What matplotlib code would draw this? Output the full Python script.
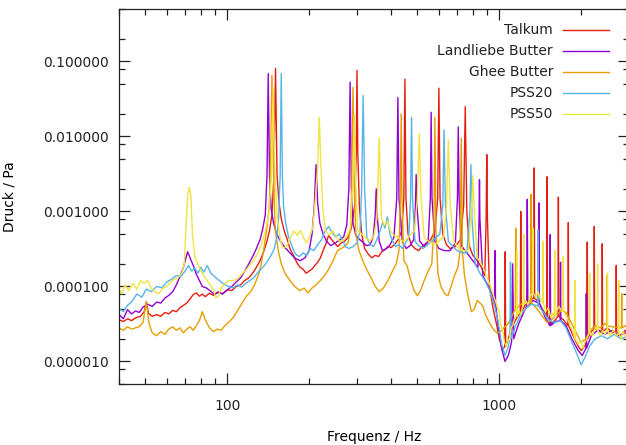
import matplotlib
matplotlib.use("Agg")
import matplotlib.pyplot as plt
from matplotlib.ticker import LogLocator, FuncFormatter, NullFormatter

# --- data (frequency in Hz, pressure in Pa) ---
talkum_f = [40, 41.5, 43, 44.5, 46, 48, 49.5, 50.4, 51.3, 53, 55, 57, 59, 61, 63, 65, 67, 69, 71, 73,
            75, 77, 79, 81, 83, 86, 89, 92, 96, 100, 104, 108, 112, 116, 120, 124, 128, 132, 136, 140,
            143, 146, 148.5, 150.5, 152.5, 155, 158, 162, 166, 170, 175, 180, 185, 190, 195, 200, 205,
            210, 215, 220, 225, 230, 236, 242, 248, 255, 262, 270, 278, 286, 294, 298, 300, 302, 306,
            312, 320, 330, 340, 350, 360, 370, 380, 390, 400, 412, 425, 438, 446, 450, 454, 462, 475,
            490, 505, 520, 540, 560, 580, 594, 600, 606, 620, 640, 660, 690, 720, 740, 750, 760, 775,
            800, 830, 860, 885, 895, 900, 905, 920, 950, 980, 1000, 1030, 1048, 1052, 1056, 1080, 1110,
            1150, 1195, 1200, 1205, 1240, 1290, 1340, 1345, 1350, 1400, 1450, 1495, 1500, 1505, 1560,
            1610, 1645, 1650, 1655, 1720, 1790, 1795, 1800, 1870, 1950, 2000, 2060, 2100, 2107, 2114,
            2180, 2230, 2236, 2243, 2320, 2385, 2392, 2400, 2500, 2600, 2686, 2693, 2700, 2800, 2900, 3000]
talkum_p = [3.6e-5, 3.4e-5, 3.7e-5, 3.5e-5, 3.8e-5, 4.0e-5, 4.6e-5, 6.2e-5, 4.4e-5, 4.0e-5, 4.2e-5,
            4.0e-5, 4.5e-5, 4.3e-5, 4.8e-5, 4.6e-5, 5.2e-5, 5.6e-5, 6.0e-5, 6.8e-5, 7.8e-5, 8.2e-5,
            7.4e-5, 7.9e-5, 7.3e-5, 8.1e-5, 7.6e-5, 8.4e-5, 8.0e-5, 9.0e-5, 8.8e-5, 1.0e-4, 1.05e-4,
            1.2e-4, 1.3e-4, 1.5e-4, 1.8e-4, 2.2e-4, 2.9e-4, 4.0e-4, 5.5e-4, 9e-4, 3e-3, 0.081, 3e-3,
            1.3e-3, 8e-4, 5.5e-4, 4.3e-4, 3.2e-4, 2.6e-4, 2.1e-4, 1.8e-4, 1.7e-4, 1.5e-4, 1.6e-4,
            1.7e-4, 1.9e-4, 2.1e-4, 2.4e-4, 3.0e-4, 3.6e-4, 4.8e-4, 4.2e-4, 3.8e-4, 3.4e-4, 3.8e-4,
            4.0e-4, 4.5e-4, 6e-4, 1.2e-3, 6e-3, 0.076, 6e-3, 1.2e-3, 5e-4, 3.2e-4, 2.7e-4, 2.4e-4,
            2.6e-4, 2.5e-4, 2.9e-4, 3.1e-4, 3.4e-4, 3.3e-4, 3.6e-4, 4.2e-4, 5.5e-4, 1.5e-3, 0.058,
            1.5e-3, 5e-4, 3.6e-4, 3.2e-4, 3.0e-4, 3.4e-4, 3.8e-4, 4.2e-4, 5.5e-4, 1.5e-3, 0.044,
            1.5e-3, 5e-4, 3.6e-4, 3.2e-4, 3.4e-4, 4.2e-4, 1.2e-3, 0.025, 1.0e-3, 3.5e-4, 2.6e-4,
            2.2e-4, 1.8e-4, 1.4e-4, 8e-4, 0.0057, 8e-4, 1.0e-4, 5e-5, 3e-5, 2.0e-5, 1.4e-5, 1.6e-5,
            2.9e-4, 1.6e-5, 2.0e-5, 2.8e-5, 3.6e-5, 4.5e-5, 1.0e-3, 4.5e-5, 5.5e-5, 6.5e-5, 7.0e-5,
            3.8e-3, 7.0e-5, 6.0e-5, 4.8e-5, 4.0e-5, 2.9e-3, 4.0e-5, 3.2e-5, 3.6e-5, 4.0e-5, 1.55e-3,
            4.0e-5, 3.6e-5, 3.0e-5, 7.1e-4, 3.0e-5, 2.2e-5, 1.6e-5, 1.4e-5, 1.6e-5, 2.0e-5, 3.9e-4,
            2.0e-5, 2.5e-5, 2.7e-5, 6.3e-4, 2.7e-5, 2.6e-5, 2.5e-5, 3.7e-4, 2.5e-5, 2.8e-5, 2.4e-5,
            2.5e-5, 1.9e-4, 2.5e-5, 2.2e-5, 2.6e-5, 2.3e-5]

landliebe_f = [40, 41.5, 43, 44.5, 46, 47.5, 49, 51, 53, 55, 57, 59, 61, 63, 65, 67, 69, 70.5, 71.5, 73,
               75, 77, 79, 81, 84, 87, 90, 93, 96, 100, 104, 108, 112, 116, 120, 124, 128, 132, 135, 138,
               140, 141.5, 143, 145, 148, 152, 157, 163, 170, 177, 185, 193, 200, 205, 209, 212, 215,
               219, 225, 232, 240, 250, 260, 268, 275, 280, 283, 286, 290, 297, 305, 315, 325, 335, 344,
               350, 353, 356, 362, 372, 385, 395, 410, 420, 424, 428, 440, 455, 470, 485, 492, 495, 498,
               510, 530, 548, 558, 562, 566, 580, 600, 630, 660, 690, 702, 707, 712, 725, 760, 800, 835,
               843, 846, 849, 870, 900, 940, 963, 966, 969, 990, 1020, 1050, 1080, 1110, 1120, 1130,
               1180, 1230, 1262, 1268, 1274, 1330, 1395, 1400, 1405, 1470, 1535, 1540, 1545, 1610, 1675,
               1680, 1685, 1760, 1850, 1950, 2020, 2085, 2090, 2095, 2180, 2300, 2450, 2600, 2750, 2900,
               3000]
landliebe_p = [4.2e-5, 3.7e-5, 4.9e-5, 4.3e-5, 4.7e-5, 4.5e-5, 5.3e-5, 5.8e-5, 5.4e-5, 6.2e-5, 6.0e-5,
               7.0e-5, 7.6e-5, 8.5e-5, 1.05e-4, 1.35e-4, 1.8e-4, 2.4e-4, 2.9e-4, 2.4e-4, 1.9e-4,
               1.45e-4, 1.2e-4, 1.0e-4, 9.5e-5, 8.6e-5, 7.8e-5, 8.4e-5, 7.9e-5, 9.0e-5, 1.0e-4,
               1.15e-4, 1.3e-4, 1.6e-4, 2.0e-4, 2.5e-4, 3.2e-4, 4.2e-4, 5.8e-4, 9e-4, 3e-3, 0.069,
               3e-3, 1.1e-3, 7e-4, 5e-4, 4e-4, 3.3e-4, 2.8e-4, 2.4e-4, 2.2e-4, 2.4e-4, 3.0e-4, 5.0e-4,
               1.2e-3, 4.2e-3, 1.3e-3, 7e-4, 5e-4, 4.0e-4, 3.5e-4, 3.8e-4, 4.2e-4, 4.6e-4, 6.5e-4,
               2e-3, 0.053, 2e-3, 7e-4, 4.8e-4, 4.3e-4, 3.9e-4, 3.5e-4, 3.6e-4, 4.5e-4, 9e-4, 2.0e-3,
               9e-4, 4e-4, 3.0e-4, 3.2e-4, 3.5e-4, 4.5e-4, 1.5e-3, 0.033, 1.5e-3, 4e-4, 3.2e-4,
               3.5e-4, 4.2e-4, 1.2e-3, 3.1e-3, 1.2e-3, 4e-4, 3.4e-4, 4.0e-4, 1.5e-3, 0.021, 1.5e-3,
               4e-4, 3.2e-4, 3.0e-4, 3.0e-4, 3.8e-4, 1.5e-3, 0.0134, 1.5e-3, 3.5e-4, 2.8e-4, 2.2e-4,
               1.8e-4, 8e-4, 2.65e-3, 8e-4, 1.4e-4, 1.1e-4, 8e-5, 6e-5, 3.0e-4, 6e-5, 3.0e-5, 1.5e-5,
               1.0e-5, 1.2e-5, 1.8e-5, 2.0e-4, 2.0e-5, 3.2e-5, 4.5e-5, 5.5e-5, 1.45e-3, 5.5e-5, 6.5e-5,
               6.0e-5, 1.3e-3, 6.0e-5, 4.0e-5, 3.0e-5, 4.9e-4, 3.0e-5, 3.4e-5, 3.5e-5, 2.1e-4, 3.5e-5,
               3.0e-5, 2.0e-5, 1.4e-5, 1.2e-5, 1.5e-5, 8e-5, 1.5e-5, 2.2e-5, 2.6e-5, 2.3e-5, 2.6e-5,
               2.2e-5, 2.4e-5, 2.2e-5]

ghee_f = [40, 41.5, 43, 44.5, 46, 47.5, 49, 50.4, 51.5, 53, 55, 57, 59, 61, 63, 65, 67, 69, 71, 73, 75,
          77, 79, 81, 83, 86, 89, 92, 95, 98, 102, 106, 110, 114, 118, 122, 126, 130, 133, 136, 139, 141,
          142.5, 144, 146, 148, 150, 154, 158, 163, 170, 177, 185, 192, 198, 205, 212, 220, 228, 236,
          245, 254, 262, 270, 278, 284, 287, 290, 293, 297, 305, 315, 325, 338, 350, 362, 375, 390, 405,
          418, 428, 433, 436, 439, 446, 458, 470, 485, 500, 515, 530, 548, 565, 575, 580, 585, 595, 610,
          630, 648, 665, 685, 705, 718, 725, 732, 745, 765, 790, 810, 830, 850, 870, 890, 920, 950, 980,
          1010, 1040, 1080, 1120, 1145, 1150, 1155, 1200, 1250, 1305, 1310, 1315, 1380, 1440, 1500,
          1560, 1620, 1700, 1760, 1840, 1920, 2000, 2080, 2160, 2250, 2350, 2450, 2483, 2488, 2493,
          2600, 2815, 2820, 2825, 2900, 3000]
ghee_p = [2.8e-5, 2.6e-5, 2.9e-5, 2.7e-5, 2.8e-5, 2.9e-5, 3.3e-5, 6.3e-5, 3.3e-5, 2.4e-5, 2.2e-5,
          2.5e-5, 2.3e-5, 2.7e-5, 2.9e-5, 2.6e-5, 2.8e-5, 2.4e-5, 2.7e-5, 2.9e-5, 2.6e-5, 3.0e-5,
          3.5e-5, 4.6e-5, 3.6e-5, 2.8e-5, 2.5e-5, 2.7e-5, 2.6e-5, 3.0e-5, 3.4e-5, 4.0e-5, 5.0e-5,
          6.2e-5, 7.5e-5, 8.5e-5, 1.05e-4, 1.4e-4, 1.9e-4, 3.0e-4, 5.0e-4, 8e-4, 1.1e-3, 3e-3, 0.065,
          3e-3, 6e-4, 3.0e-4, 2.0e-4, 1.5e-4, 1.2e-4, 1.0e-4, 8.8e-5, 9.5e-5, 8.2e-5, 9.5e-5,
          1.05e-4, 1.2e-4, 1.4e-4, 1.7e-4, 2.2e-4, 3.0e-4, 3.2e-4, 3.4e-4, 3.8e-4, 6e-4, 2e-3, 0.045,
          2e-3, 5e-4, 3.0e-4, 2.2e-4, 1.7e-4, 1.3e-4, 1.0e-4, 8.5e-5, 9.5e-5, 1.2e-4, 1.6e-4, 2.0e-4,
          3.0e-4, 1.5e-3, 0.02, 1.5e-3, 2.2e-4, 1.9e-4, 1.3e-4, 9e-5, 7.5e-5, 9e-5, 1.2e-4, 1.6e-4,
          2.0e-4, 6e-4, 0.018, 6e-4, 1.5e-4, 1.0e-4, 8e-5, 7.5e-5, 1.0e-4, 1.4e-4, 1.8e-4, 3e-4,
          0.0095, 3e-4, 1.4e-4, 8e-5, 4.6e-5, 5.0e-5, 6.5e-5, 6.0e-5, 5.5e-5, 4.2e-5, 3.3e-5, 2.7e-5,
          2.4e-5, 2.5e-5, 2.8e-5, 3.2e-5, 4.2e-5, 5e-5, 6e-4, 5e-5, 5.8e-5, 6.2e-5, 6.0e-5, 1.7e-3,
          6.0e-5, 5.0e-5, 4.0e-5, 3.3e-5, 3.6e-5, 4.2e-5, 4.8e-5, 4.5e-5, 3.3e-5, 2.4e-5, 1.8e-5,
          2.0e-5, 2.6e-5, 3.0e-5, 2.8e-5, 3.2e-5, 3.0e-5, 1.4e-4, 3.0e-5, 2.9e-5, 2.8e-5, 8e-5,
          2.8e-5, 3.0e-5, 2.6e-5]

pss20_f = [40, 41.5, 43, 44.5, 46.5, 48.5, 50.4, 52.5, 55, 57.5, 60, 62.5, 65, 67.5, 70, 72, 74, 76, 78,
           80, 82, 84.5, 87, 89, 92, 95, 98, 101, 105, 109, 113, 117, 121, 125, 129, 133, 137, 141, 145,
           149, 152, 154.5, 156.5, 158, 159.5, 161, 164, 168, 173, 178, 184, 190, 196, 202, 208, 215,
           222, 229, 236, 243, 250, 258, 265, 272, 280, 290, 300, 308, 312, 316, 320, 326, 335, 345,
           355, 365, 373, 380, 388, 396, 406, 416, 428, 440, 452, 465, 472, 476, 480, 490, 505, 525,
           545, 565, 585, 605, 620, 627, 634, 650, 675, 700, 730, 760, 780, 787, 794, 815, 850, 885,
           920, 955, 990, 1020, 1050, 1075, 1095, 1100, 1105, 1150, 1200, 1260, 1320, 1385, 1390,
           1395, 1460, 1530, 1600, 1680, 1760, 1850, 1940, 2000, 2060, 2150, 2250, 2380, 2500, 2650,
           2800, 3000]
pss20_p = [5.1e-5, 4.6e-5, 5.6e-5, 6.2e-5, 7.9e-5, 7.2e-5, 9.2e-5, 8.5e-5, 1.0e-4, 9.6e-5, 1.15e-4,
           1.25e-4, 1.4e-4, 1.35e-4, 1.6e-4, 1.9e-4, 1.6e-4, 1.75e-4, 1.5e-4, 1.8e-4, 1.55e-4, 1.9e-4,
           1.5e-4, 1.4e-4, 1.25e-4, 1.15e-4, 1.05e-4, 1.0e-4, 9.5e-5, 1.05e-4, 9.8e-5, 1.1e-4, 1.2e-4,
           1.3e-4, 1.5e-4, 1.7e-4, 1.9e-4, 2.2e-4, 2.6e-4, 3.2e-4, 4.5e-4, 8e-4, 3e-3, 0.069, 3e-3,
           1.2e-3, 7e-4, 4.6e-4, 3.4e-4, 2.7e-4, 2.5e-4, 2.8e-4, 2.6e-4, 3.2e-4, 3.0e-4, 3.6e-4,
           4.2e-4, 5.5e-4, 6.3e-4, 5.2e-4, 4.6e-4, 5.0e-4, 4.2e-4, 3.4e-4, 3.2e-4, 3.4e-4, 3.8e-4,
           5.5e-4, 2e-3, 0.035, 2e-3, 4.5e-4, 3.6e-4, 3.4e-4, 4.2e-4, 5.6e-4, 7.2e-4, 6.0e-4, 8.5e-4,
           5.0e-4, 4.0e-4, 3.4e-4, 3.6e-4, 3.2e-4, 3.8e-4, 4.5e-4, 1.5e-3, 0.018, 1.5e-3, 4.0e-4,
           3.5e-4, 3.2e-4, 3.6e-4, 4.0e-4, 4.5e-4, 5.0e-4, 1.2e-3, 0.0122, 1.2e-3, 4e-4, 3.4e-4,
           3.0e-4, 2.8e-4, 2.8e-4, 1e-3, 4.2e-3, 8e-4, 2.0e-4, 1.5e-4, 1.2e-4, 9e-5, 6e-5, 3.5e-5,
           1.7e-5, 1.2e-5, 1.5e-5, 2.0e-5, 2.1e-4, 2.0e-5, 3.0e-5, 4.2e-5, 5.2e-5, 5.8e-5, 5.5e-5,
           5.7e-4, 5.5e-5, 4.4e-5, 3.5e-5, 3.3e-5, 3.5e-5, 2.8e-5, 1.8e-5, 1.2e-5, 9e-6, 1.1e-5,
           1.6e-5, 2.0e-5, 2.2e-5, 2.0e-5, 2.3e-5, 2.0e-5, 2.2e-5]

pss50_f = [40, 41, 42, 43.5, 45, 46.5, 48, 49.5, 51, 52.5, 54, 56, 58, 60, 62, 64, 66, 68, 69.5, 70.5,
           71.5, 72.5, 73.5, 74.5, 76, 78, 80, 83, 86, 89, 91, 93, 95, 98, 102, 106, 110, 114, 118, 122,
           126, 130, 134, 138, 142, 145, 147.5, 150, 153, 157, 161, 166, 171, 176, 181, 186, 191, 196,
           201, 206, 211, 215, 218, 221, 225, 230, 237, 244, 252, 260, 268, 276, 284, 289, 293, 297,
           302, 312, 322, 334, 345, 355, 362, 369, 378, 388, 398, 410, 425, 440, 455, 470, 488, 500,
           508, 516, 530, 550, 575, 600, 625, 640, 650, 660, 680, 710, 740, 770, 790, 800, 810, 830,
           860, 890, 920, 960,
           1000, 1015, 1030, 1045, 1060, 1075, 1090, 1105, 1120, 1140, 1155, 1160, 1165, 1180, 1200,
           1225, 1230, 1235, 1250, 1275, 1300, 1325, 1330, 1335, 1360, 1390, 1420, 1445, 1450, 1455,
           1480, 1515, 1550, 1575, 1595, 1600, 1605, 1620, 1660, 1700, 1715, 1720, 1725, 1750, 1780,
           1820, 1860, 1895, 1900, 1905, 1950, 1990, 2030, 2065, 2100, 2145, 2150, 2155, 2200, 2250,
           2295, 2300, 2305, 2350, 2400, 2450, 2495, 2500, 2505, 2550, 2625, 2700, 2745, 2750, 2755,
           2800, 2850, 2925, 3000]
pss50_p = [9.2e-5, 8.0e-5, 1.05e-4, 8.8e-5, 1.1e-4, 9.2e-5, 1.2e-4, 1.1e-4, 1.2e-4, 9.5e-5, 8.5e-5,
           8.0e-5, 9.5e-5, 1.0e-4, 1.15e-4, 1.25e-4, 1.3e-4, 1.5e-4, 2.0e-4, 6e-4, 1.6e-3, 2.1e-3,
           1.6e-3, 5e-4, 2.5e-4, 2.0e-4, 1.6e-4, 1.3e-4, 1.1e-4, 9.0e-5, 7.0e-5, 7.5e-5, 9.5e-5,
           1.1e-4, 1.2e-4, 1.2e-4, 1.3e-4, 1.5e-4, 1.7e-4, 2.0e-4, 2.3e-4, 2.9e-4, 3.7e-4, 5.5e-4,
           9e-4, 2.5e-3, 0.045, 2.5e-3, 8e-4, 4.0e-4, 3.2e-4, 3.5e-4, 4.5e-4, 5.5e-4, 4.8e-4, 5.6e-4,
           4.4e-4, 3.8e-4, 4.6e-4, 6e-4, 1.5e-3, 4e-3, 0.018, 4e-3, 1.0e-3, 5.5e-4, 4.8e-4, 5.5e-4,
           4.6e-4, 3.9e-4, 4.2e-4, 4.8e-4, 6e-4, 2e-3, 0.02, 2e-3, 5.5e-4, 5.0e-4, 4.5e-4, 4.0e-4,
           4.5e-4, 8e-4, 0.0095, 8e-4, 6.5e-4, 7.5e-4, 5.5e-4, 4.8e-4, 4.5e-4, 4.0e-4, 4.2e-4, 4.8e-4,
           5.5e-4, 1.5e-3, 0.011, 1.5e-3, 4.5e-4, 4.0e-4, 3.6e-4, 4.0e-4, 4.6e-4, 1.2e-3, 0.009,
           1.2e-3, 4.0e-4, 3.2e-4, 3.0e-4, 3.0e-4, 1e-3, 3.0e-3, 1e-3, 2.4e-4, 2.0e-4, 1.5e-4, 1.1e-4,
           7e-5,
           4.5e-5, 3.0e-5, 2.6e-5, 1.8e-5, 1.6e-5, 2.0e-5, 1.9e-5, 2.8e-5, 3.0e-5, 3.8e-5, 4.0e-5,
           3e-4, 4.0e-5, 4.8e-5, 4.2e-5, 5.8e-5, 5e-4, 5.8e-5, 6.5e-5, 5.6e-5, 7.5e-5, 8.2e-5, 6e-4,
           8.2e-5, 7.0e-5, 8.5e-5, 6.5e-5, 6.0e-5, 4e-4, 6e-5, 4.6e-5, 5.2e-5, 3.8e-5, 4.4e-5, 4.0e-5,
           3e-4, 4.0e-5, 4.6e-5, 5.4e-5, 4.6e-5, 4.8e-5, 2.5e-4, 4.8e-5, 4.2e-5, 3.8e-5, 3.0e-5,
           2.6e-5, 2.0e-5, 1.2e-4, 2.0e-5, 1.7e-5, 1.9e-5, 1.5e-5, 1.8e-5, 2.0e-5, 2.4e-5, 1.5e-4,
           2.4e-5, 2.2e-5, 2.8e-5, 2.6e-5, 2e-4, 2.6e-5, 2.2e-5, 2.6e-5, 2.3e-5, 2.6e-5, 1.5e-4,
           2.6e-5, 2.2e-5, 2.6e-5, 2.2e-5, 2.4e-5, 1.2e-4, 2.4e-5, 2.0e-5, 2.5e-5, 2.1e-5, 2.4e-5]

labels = ["Talkum", "Landliebe Butter", "Ghee Butter", "PSS20", "PSS50"]
colors = ["#e51e10", "#9400d3", "#e69f00", "#56b4e9", "#f0e442"]
series = [(talkum_f, talkum_p), (landliebe_f, landliebe_p), (ghee_f, ghee_p),
          (pss20_f, pss20_p), (pss50_f, pss50_p)]

# --- figure ---
W, H = 626, 445
fig = plt.figure(figsize=(W / 100, H / 100), dpi=100)
ax = fig.add_axes([119 / W, 1 - 384 / H, 510 / W, 375 / H])

for (f, p), c in zip(series, colors):
    ax.plot(f, p, color=c, lw=1.0)

ax.set_xscale("log")
ax.set_yscale("log")
ax.set_xlim(40, 3000)
ax.set_ylim(5e-6, 0.5)

ax.yaxis.set_major_locator(LogLocator(base=10, numticks=12))
ax.yaxis.set_minor_locator(LogLocator(base=10, subs=[2, 5, 8], numticks=12))
ax.yaxis.set_major_formatter(FuncFormatter(lambda v, pos: f"{v:.6f}"))
ax.yaxis.set_minor_formatter(NullFormatter())
ax.xaxis.set_major_locator(LogLocator(base=10, numticks=12))
ax.xaxis.set_minor_locator(LogLocator(base=10, subs=range(2, 10), numticks=12))
ax.xaxis.set_major_formatter(FuncFormatter(lambda v, pos: f"{v:g}"))
ax.xaxis.set_minor_formatter(NullFormatter())

ax.tick_params(which="both", direction="in", top=True, right=True, colors="#222222",
               labelsize=10, width=0.9)
ax.tick_params(which="major", length=8)
ax.tick_params(which="minor", length=4.5)
ax.tick_params(axis="x", which="major", pad=11)
ax.tick_params(axis="y", which="major", pad=7)
for s in ax.spines.values():
    s.set_linewidth(0.9)
    s.set_color("#222222")

ax.set_xlabel("Frequenz / Hz", fontsize=10)
ax.set_ylabel("Druck / Pa", fontsize=10)
ax.xaxis.set_label_coords(0.5, -0.122)
ax.yaxis.set_label_coords(-0.2, 0.5)

# legend: text right-aligned, line sample to the right (gnuplot style)
leg_y = [0.944, 0.887, 0.832, 0.776, 0.720]
for lab, c, yy in zip(labels, colors, leg_y):
    ax.text(0.851, yy, lab, transform=ax.transAxes, ha="right", va="center",
            fontsize=10, color="#222222")
    ax.plot([0.871, 0.961], [yy, yy], transform=ax.transAxes, color=c, lw=1.0)

fig.savefig("out.png", dpi=100)
